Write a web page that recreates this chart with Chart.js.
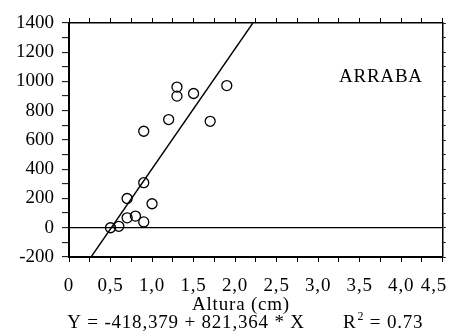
<!DOCTYPE html>
<html>
<head>
<meta charset="utf-8">
<script src="https://cdn.jsdelivr.net/npm/chart.js@4/dist/chart.umd.min.js"></script>
<style>
  body { margin: 0; background: #fff; }
  canvas { display: block; }
</style>
</head>
<body>
<canvas id="grafico_arraba" width="449" height="332"></canvas>
<script>
// altura (cm) y valor medido en cada planta
const altura_cm = [0.5, 0.6, 0.7, 0.7, 0.8, 0.9, 0.9, 0.9, 1.0, 1.2, 1.3, 1.3, 1.5, 1.7, 1.9]
const valores = [0, 10, 68, 200, 80, 40, 308, 660, 164, 740, 962, 900, 918, 728, 972]

// recta de regresion: Y = a + b * X
const intercepto = -418.379
const pendiente = 821.364
const r2 = '0.73'

const nombre_sitio = 'ARRABA'
const y_min = -200
const y_max = 1400
const x_min = 0
const x_max = 4.5
const x_etiquetas = [0, 0.5, 1.0, 1.5, 2.0, 2.5, 3.0, 3.5, 4.0, 4.5]

const FUENTE = "'Liberation Serif', 'Times New Roman', serif"

function coma(v) {
  if (v === 0) return '0'
  return v.toFixed(1).replace('.', ',')
}

let puntos = []
for (let i = 0; i < altura_cm.length; i++) {
  puntos.push({ x: altura_cm[i], y: valores[i] })
}

// extremos de la recta dentro del rango del eje Y
let recta = [y_min, y_max].map((v) => ({ x: (v - intercepto) / pendiente, y: v }))

const textos_plugin = {
  id: 'textos',
  afterDraw(chart) {
    const ctx = chart.ctx
    const sx = chart.scales.x
    const sy = chart.scales.y
    ctx.save()
    ctx.fillStyle = '#000'
    ctx.textBaseline = 'alphabetic'
    ctx.font = '19px ' + FUENTE
    ctx.letterSpacing = '0.8px'

    // etiquetas del eje X (la ultima no puede salirse del lienzo)
    ctx.textAlign = 'center'
    for (const v of x_etiquetas) {
      let px = sx.getPixelForValue(v)
      let w = ctx.measureText(coma(v)).width
      if (px + w / 2 > chart.width - 2) px = chart.width - 2 - w / 2
      ctx.fillText(coma(v), px, 291)
    }

    ctx.textAlign = 'left'
    ctx.fillText(nombre_sitio, sx.getPixelForValue(3.25), sy.getPixelForValue(1000))

    ctx.textAlign = 'center'
    ctx.fillText('Altura (cm)', 241, 310)
    ctx.fillText('Y = ' + String(intercepto).replace('.', ',') + ' + ' + String(pendiente).replace('.', ',') + ' * X', 186, 328)

    ctx.textAlign = 'left'
    let px = 343
    ctx.fillText('R', px, 328)
    px += ctx.measureText('R').width
    ctx.font = '12px ' + FUENTE
    ctx.fillText('2', px + 1, 320)
    px += ctx.measureText('2').width + 1
    ctx.font = '19px ' + FUENTE
    ctx.fillText(' = ' + r2, px, 328)
    ctx.restore()
  },
}

let config = {
  type: 'scatter',
  data: {
    datasets: [
      {
        data: puntos,
        pointStyle: 'circle',
        pointRadius: 5,
        pointBorderWidth: 1.3,
        pointBorderColor: '#000',
        pointBackgroundColor: 'rgba(0,0,0,0)',
        showLine: false,
      },
      {
        type: 'line',
        data: recta,
        borderColor: '#000',
        borderWidth: 1.4,
        pointRadius: 0,
        fill: false,
      },
    ],
  },
  options: {
    responsive: false,
    animation: false,
    layout: { padding: { left: 8, top: 18, right: 0, bottom: 70 } },
    plugins: {
      legend: { display: false },
      tooltip: { enabled: false },
    },
    scales: {
      x: {
        type: 'linear',
        position: 'bottom',
        min: x_min,
        max: x_max,
        border: { color: '#000', width: 2 },
        grid: { drawOnChartArea: false, tickColor: '#000', tickLength: 5, tickWidth: 1 },
        ticks: { stepSize: 0.25, autoSkip: false, display: false },
      },
      x2: {
        type: 'linear',
        position: 'top',
        min: x_min,
        max: x_max,
        border: { color: '#000', width: 1.5 },
        grid: { drawOnChartArea: false, tickColor: '#000', tickLength: 5, tickWidth: 1 },
        ticks: { stepSize: 0.25, display: false },
      },
      y: {
        type: 'linear',
        position: 'left',
        min: y_min,
        max: y_max,
        border: { color: '#000', width: 2 },
        grid: {
          color: (c) => (c.tick && c.tick.value === 0 ? '#000' : 'rgba(0,0,0,0)'),
          lineWidth: 1.3,
          tickColor: '#000',
          tickLength: 7,
          tickWidth: 1,
        },
        ticks: {
          stepSize: 100,
          autoSkip: false,
          padding: 8,
          color: '#000',
          font: { family: FUENTE, size: 19 },
          callback: (v) => (v % 200 === 0 ? String(v) : ''),
        },
      },
      y2: {
        type: 'linear',
        position: 'right',
        min: y_min,
        max: y_max,
        border: { color: '#000', width: 1.5 },
        grid: { drawOnChartArea: false, tickColor: '#000', tickLength: 3, tickWidth: 1 },
        ticks: { stepSize: 100, display: false },
      },
    },
  },
  plugins: [textos_plugin],
}

let grafico = new Chart(document.getElementById('grafico_arraba'), config)
</script>
</body>
</html>
